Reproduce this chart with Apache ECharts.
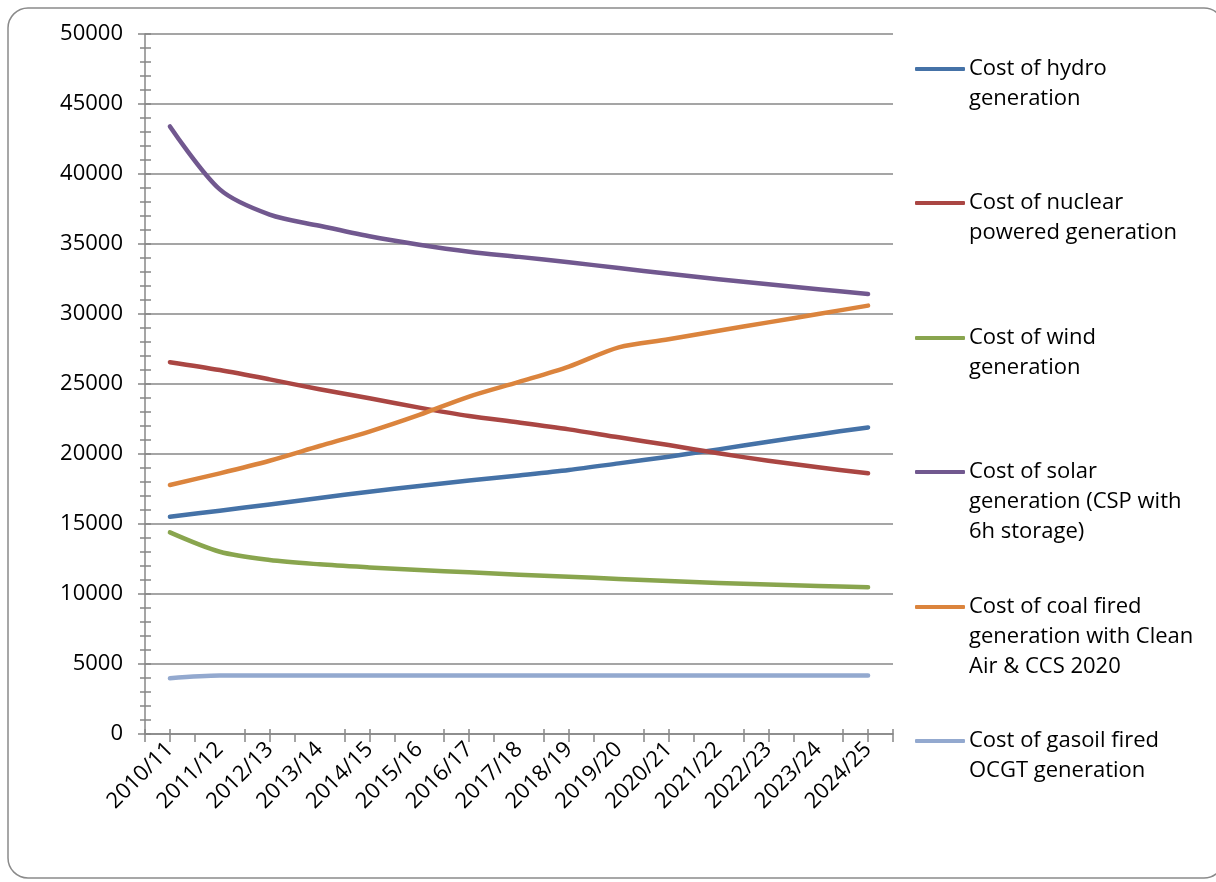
<!DOCTYPE html>
<html>
<head>
<meta charset="utf-8">
<script src="https://cdn.jsdelivr.net/npm/echarts@6/dist/echarts.min.js"></script>
<style>
html,body{margin:0;padding:0;background:#fff;}
#main{width:1216px;height:882px;}
</style>
</head>
<body>
<div id="main"></div>
<script>
var categories = ['2010/11','2011/12','2012/13','2013/14','2014/15','2015/16','2016/17','2017/18','2018/19','2019/20','2020/21','2021/22','2022/23','2023/24','2024/25'];
var seriesNames = [
  'Cost of hydro\ngeneration',
  'Cost of nuclear\npowered generation',
  'Cost of wind\ngeneration',
  'Cost of solar\ngeneration (CSP with\n6h storage)',
  'Cost of coal fired\ngeneration with Clean\nAir & CCS 2020',
  'Cost of gasoil fired\nOCGT generation'
];
var hydro   = [15520,15950,16400,16860,17300,17720,18100,18470,18860,19330,19810,20330,20880,21400,21900];
var nuclear = [26560,26000,25330,24620,23980,23310,22710,22250,21760,21190,20640,20050,19520,19050,18620];
var wind    = [14400,13020,12430,12120,11900,11710,11550,11380,11240,11070,10930,10790,10670,10570,10480];
var solar   = [43400,38900,37100,36300,35550,34950,34450,34080,33700,33280,32870,32490,32130,31770,31430];
var coal    = [17790,18620,19520,20570,21600,22790,24100,25150,26240,27620,28190,28810,29400,30000,30600];
var gasoil  = [3980,4170,4170,4170,4170,4170,4170,4170,4170,4170,4170,4170,4170,4170,4170];
var yMin = 0, yMax = 50000, yStep = 5000;

var colors = ['#4572A7','#AA4643','#89A54E','#71588F','#DB843D','#93A9CF'];
var allData = [hydro, nuclear, wind, solar, coal, gasoil];
var FONT = 'Open Sans';
var FS = 22;
var axisColor = '#878787';

var chart = echarts.init(document.getElementById('main'));

var series = seriesNames.map(function(n, i){
  return {
    name: n, type: 'line', data: allData[i], smooth: 0.3,
    showSymbol: false, symbol: 'none', xAxisIndex: 0, yAxisIndex: 0,
    lineStyle: {color: colors[i], width: 4.5, cap: 'round', join: 'round'},
    itemStyle: {color: colors[i]},
    z: 10 + i
  };
});

var legendCenters = [69, 203, 338, 472, 607, 741];
var LH = 30;
var legends = seriesNames.map(function(n, i){
  var lines = n.split('\n').length;
  var blanks = lines - 1;
  return {
    data: [n], orient: 'vertical', left: 915,
    top: legendCenters[i] - blanks * LH - LH / 2,
    padding: 0, itemWidth: 50, itemHeight: 4, icon: 'roundRect', itemGap: 5,
    formatter: function(name){
      var pre = '';
      for (var k = 0; k < name.split('\n').length - 1; k++) pre += ' \n';
      return pre + name;
    },
    textStyle: {fontFamily: FONT, fontSize: FS, color: '#000', lineHeight: LH, padding: [0,0,0,-1]},
    selectedMode: false
  };
});

var option = {
  backgroundColor: '#fff',
  animation: false,
  color: colors,
  grid: {left: 145, right: 323, top: 34, bottom: 148, containLabel: false},
  legend: legends,
  graphic: [{
    type: 'rect', silent: true, z: -10,
    shape: {x: 8, y: 8, width: 1216, height: 870, r: 20},
    style: {fill: 'none', stroke: '#8a8a8a', lineWidth: 1.5}
  }],
  xAxis: [{
    type: 'category', data: categories, boundaryGap: true,
    axisLine: {lineStyle: {color: axisColor, width: 1.5}},
    axisTick: {show: true, alignWithLabel: false, length: 8, lineStyle: {color: axisColor, width: 1.5}},
    axisLabel: {rotate: 45, interval: 0, margin: 12, fontFamily: FONT, fontSize: FS, color: '#000'},
    splitLine: {show: false}
  },{
    type: 'category', data: categories, boundaryGap: true, position: 'bottom',
    axisLine: {show: false},
    axisTick: {show: true, inside: true, alignWithLabel: false, length: 5, lineStyle: {color: axisColor, width: 1.5}},
    axisLabel: {show: false}, splitLine: {show: false}
  },{
    type: 'category', data: categories, boundaryGap: true, position: 'bottom',
    axisLine: {show: false},
    axisTick: {show: true, alignWithLabel: true, length: 8, lineStyle: {color: axisColor, width: 1.5}},
    axisLabel: {show: false}, splitLine: {show: false}
  },{
    type: 'category', data: categories, boundaryGap: true, position: 'bottom',
    axisLine: {show: false},
    axisTick: {show: true, inside: true, alignWithLabel: true, length: 5, lineStyle: {color: axisColor, width: 1.5}},
    axisLabel: {show: false}, splitLine: {show: false}
  }],
  yAxis: [{
    type: 'value', min: yMin, max: yMax, interval: yStep,
    axisLine: {show: true, lineStyle: {color: axisColor, width: 1.5}},
    axisTick: {show: true, length: 7, lineStyle: {color: axisColor, width: 1.5}},
    minorTick: {show: true, splitNumber: 5, length: 5, lineStyle: {color: axisColor, width: 1.5}},
    axisLabel: {margin: 22, fontFamily: FONT, fontSize: FS, color: '#000', formatter: function(v){ return String(v); }},
    splitLine: {show: true, lineStyle: {color: axisColor, width: 1.5}}
  },{
    type: 'value', min: yMin, max: yMax, interval: yStep, position: 'left',
    axisLine: {show: false},
    axisTick: {show: true, inside: true, length: 6, lineStyle: {color: axisColor, width: 1.5}},
    minorTick: {show: true, splitNumber: 5, length: 6, lineStyle: {color: axisColor, width: 1.5}},
    axisLabel: {show: false},
    splitLine: {show: false}
  }],
  series: series
};
chart.setOption(option);
</script>
</body>
</html>
